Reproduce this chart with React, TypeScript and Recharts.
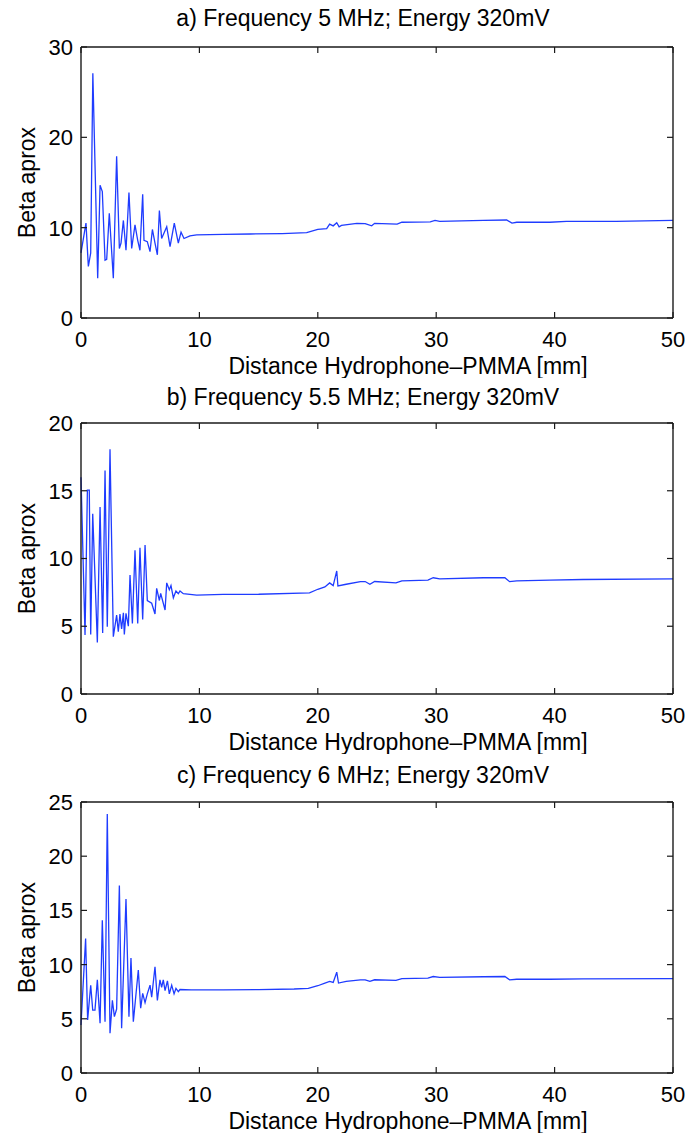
import { LineChart, Line, XAxis, YAxis, Label } from "recharts";

// distance axis (mm) and tick labels shared by all panels
const xTicks = [0, 10, 20, 30, 40, 50];
const yTicksA = [0, 10, 20, 30];
const yTicksB = [0, 5, 10, 15, 20];
const yTicksC = [0, 5, 10, 15, 20, 25];

// a) 5 MHz
const distA = [
  0, 0.42, 0.62, 0.82, 1.0, 1.41, 1.61, 1.8, 2.03, 2.17, 2.39, 2.73, 3.01, 3.24, 3.38, 3.58, 3.8, 4.05, 4.28,
  4.56, 4.79, 4.98, 5.21, 5.32, 5.6, 5.83, 6.03, 6.25, 6.45, 6.62, 6.81, 7.24, 7.52, 7.88, 8.22, 8.45, 8.7, 9.2,
  9.77, 12, 14.3, 17, 19.06, 20.0, 20.75, 21.0, 21.3, 21.6, 21.8, 22.0, 23.3, 24.0, 24.55, 24.8, 26.7, 27.1, 29.5,
  29.9, 30.3, 34.0, 35.95, 36.4, 36.8, 39.6, 41.0, 45.2, 50,
];
const betaA = [
  7.2, 10.5, 5.7, 7.2, 27.1, 4.4, 14.7, 14.0, 6.4, 6.5, 11.6, 4.4, 17.9, 7.7, 8.3, 10.8, 7.5, 13.9, 7.7,
  10.3, 8.6, 7.5, 13.7, 8.6, 8.45, 7.35, 9.8, 8.3, 7.0, 11.9, 8.8, 10.1, 7.9, 10.5, 8.3, 9.5, 8.8, 9.1,
  9.2, 9.25, 9.3, 9.35, 9.44, 9.8, 9.9, 10.4, 10.2, 10.55, 10.1, 10.25, 10.48, 10.45, 10.2, 10.48, 10.4, 10.6, 10.65,
  10.8, 10.7, 10.8, 10.85, 10.5, 10.6, 10.6, 10.7, 10.7, 10.8,
];

// b) 5.5 MHz
const distB = [
  0, 0.34, 0.54, 0.7, 0.82, 0.99, 1.38, 1.61, 1.83, 2.03, 2.22, 2.45, 2.73, 3.01, 3.15, 3.29, 3.43, 3.58, 3.66,
  3.8, 4.0, 4.14, 4.34, 4.56, 4.79, 4.98, 5.21, 5.41, 5.6, 5.97, 6.25, 6.39, 6.62, 6.73, 7.1, 7.24, 7.46, 7.6,
  7.8, 8.02, 8.22, 8.36, 8.64, 9.77, 12, 15, 19.3, 20.0, 20.6, 21.0, 21.3, 21.6, 21.7, 22.4, 23.6, 24.0, 24.4,
  24.8, 26.6, 27.1, 29.3, 29.75, 30.3, 34.0, 35.8, 36.2, 36.8, 39.6, 42.4, 50,
];
const betaB = [
  16.0, 4.35, 15.05, 15.05, 4.4, 13.3, 3.8, 13.8, 4.5, 16.5, 4.97, 18.06, 4.23, 5.83, 4.6, 5.9, 4.8, 6.0, 4.4,
  5.96, 5.0, 8.78, 5.2, 10.6, 5.2, 10.8, 5.5, 11.0, 6.9, 6.7, 5.9, 7.8, 6.9, 7.43, 6.2, 8.2, 7.7, 8.0,
  7.1, 7.6, 7.4, 7.6, 7.4, 7.3, 7.35, 7.36, 7.47, 7.73, 7.9, 8.2, 8.0, 9.08, 7.97, 8.1, 8.3, 8.3, 8.1,
  8.3, 8.2, 8.35, 8.41, 8.58, 8.5, 8.58, 8.58, 8.29, 8.35, 8.4, 8.45, 8.5,
];

// c) 6 MHz
const distC = [
  0, 0.39, 0.56, 0.82, 0.99, 1.18, 1.38, 1.61, 1.8, 2.03, 2.22, 2.45, 2.65, 2.82, 3.01, 3.24, 3.43, 3.8, 4.05,
  4.22, 4.42, 4.84, 5.04, 5.21, 5.41, 5.6, 5.83, 5.97, 6.25, 6.45, 6.67, 6.81, 6.95, 7.1, 7.3, 7.46, 7.66, 7.86,
  8.02, 8.22, 8.36, 9.3, 12, 15, 18, 19.2, 20.0, 20.6, 21.0, 21.3, 21.6, 21.75, 22.4, 23.6, 24.0, 24.4, 24.8,
  26.6, 27.1, 29.3, 29.75, 30.3, 34, 35.8, 36.2, 36.8, 39.6, 42.4, 50,
];
const betaC = [
  4.43, 12.4, 4.9, 8.1, 5.8, 5.8, 8.6, 4.6, 14.1, 4.73, 23.9, 3.66, 6.7, 5.2, 5.9, 17.3, 4.12, 16.05, 5.2,
  10.6, 4.73, 9.5, 5.97, 7.35, 6.5, 7.3, 8.1, 7.0, 9.8, 6.7, 8.6, 7.9, 8.6, 7.6, 8.5, 7.3, 8.1, 7.3,
  7.8, 7.5, 7.7, 7.66, 7.67, 7.7, 7.75, 7.8, 8.05, 8.3, 8.45, 8.35, 9.3, 8.3, 8.45, 8.6, 8.6, 8.45, 8.6,
  8.55, 8.7, 8.75, 8.9, 8.82, 8.88, 8.9, 8.6, 8.65, 8.65, 8.68, 8.7,
];

const toRows = (dist: number[], beta: number[]) => dist.map((d, i) => ({ d, beta: beta[i] }));

const FONT = '"Liberation Sans", Arial, Helvetica, sans-serif';
const AXIS = "#1a1a1a";
const BLUE = "#1f3cff";
const TICK_LEN = 6;

// matlab-style ticks: short marks pointing into the box, labels outside
const BottomTick = (props: any) => {
  const { x, y, payload } = props;
  return (
    <g>
      <line x1={x} x2={x} y1={y - 13} y2={y - 13 - TICK_LEN} stroke={AXIS} strokeWidth={1.2} />
      <text x={x} y={y} dy="0.71em" textAnchor="middle" fontSize={22} fill="#000">
        {payload.value}
      </text>
    </g>
  );
};

const LeftTick = (props: any) => {
  const { x, y, payload } = props;
  return (
    <g>
      <line x1={x + 8} x2={x + 8 + TICK_LEN} y1={y} y2={y} stroke={AXIS} strokeWidth={1.2} />
      <text x={x} y={y} dy="0.36em" textAnchor="end" fontSize={22} fill="#000">
        {payload.value}
      </text>
    </g>
  );
};

const TopTick = (props: any) => {
  const { x, y } = props;
  return <line x1={x} x2={x} y1={y} y2={y + TICK_LEN} stroke={AXIS} strokeWidth={1.2} />;
};

const RightTick = (props: any) => {
  const { x, y } = props;
  return <line x1={x} x2={x - TICK_LEN} y1={y} y2={y} stroke={AXIS} strokeWidth={1.2} />;
};

interface PanelProps {
  title: string;
  dist: number[];
  beta: number[];
  yTicks: number[];
  top: number;
  titleDy: number;
}

function Panel({ title, dist, beta, yTicks, top, titleDy }: PanelProps) {
  const yMax = yTicks[yTicks.length - 1];
  return (
    <div style={{ position: "absolute", left: 0, top }}>
      <LineChart
        width={689}
        height={378}
        data={toRows(dist, beta)}
        margin={{ top: 47, right: 16, bottom: 0, left: 31 }}
      >
        <XAxis
          dataKey="d"
          type="number"
          domain={[0, 50]}
          ticks={xTicks}
          interval={0}
          height={60}
          stroke={AXIS}
          strokeWidth={1.4}
          tickLine={false}
          tickSize={0}
          tickMargin={13}
          tick={BottomTick}
        >
          <Label value="Distance Hydrophone–PMMA [mm]" position="center" dx={31} dy={18} fontSize={23} fill="#000" />
        </XAxis>
        <XAxis
          xAxisId="top"
          dataKey="d"
          orientation="top"
          mirror
          type="number"
          domain={[0, 50]}
          ticks={xTicks}
          interval={0}
          height={30}
          stroke={AXIS}
          strokeWidth={1.4}
          tickLine={false}
          tickSize={0}
          tickMargin={0}
          tick={TopTick}
        >
          <Label value={title} position="center" dx={-14} dy={titleDy} fontSize={23} fill="#000" />
        </XAxis>
        <YAxis
          type="number"
          domain={[0, yMax]}
          ticks={yTicks}
          interval={0}
          width={50}
          stroke={AXIS}
          strokeWidth={1.4}
          tickLine={false}
          tickSize={0}
          tickMargin={8}
          tick={LeftTick}
        >
          <Label value="Beta aprox" angle={-90} position="center" dx={-29} fontSize={23} fill="#000" />
        </YAxis>
        <YAxis
          yAxisId="right"
          orientation="right"
          mirror
          type="number"
          domain={[0, yMax]}
          ticks={yTicks}
          interval={0}
          stroke={AXIS}
          strokeWidth={1.4}
          tickLine={false}
          tickSize={0}
          tickMargin={0}
          tick={RightTick}
        />
        <Line
          type="linear"
          dataKey="beta"
          stroke={BLUE}
          strokeWidth={1.3}
          dot={false}
          activeDot={false}
          isAnimationActive={false}
        />
        {/* invisible copy so the top/right frame axes get a real scale */}
        <Line
          type="linear"
          dataKey="beta"
          xAxisId="top"
          yAxisId="right"
          stroke="transparent"
          dot={false}
          activeDot={false}
          isAnimationActive={false}
        />
      </LineChart>
    </div>
  );
}

export default function App() {
  return (
    <div style={{ position: "absolute", left: 0, top: 0, width: 689, height: 1133, fontFamily: FONT, background: "#fff" }}>
      <Panel title="a)  Frequency 5 MHz; Energy 320mV" dist={distA} beta={betaA} yTicks={yTicksA} top={0} titleDy={-44} />
      <Panel title="b)  Frequency 5.5 MHz; Energy 320mV" dist={distB} beta={betaB} yTicks={yTicksB} top={376} titleDy={-41} />
      <Panel title="c)  Frequency 6 MHz; Energy 320mV" dist={distC} beta={betaC} yTicks={yTicksC} top={755} titleDy={-42} />
    </div>
  );
}
